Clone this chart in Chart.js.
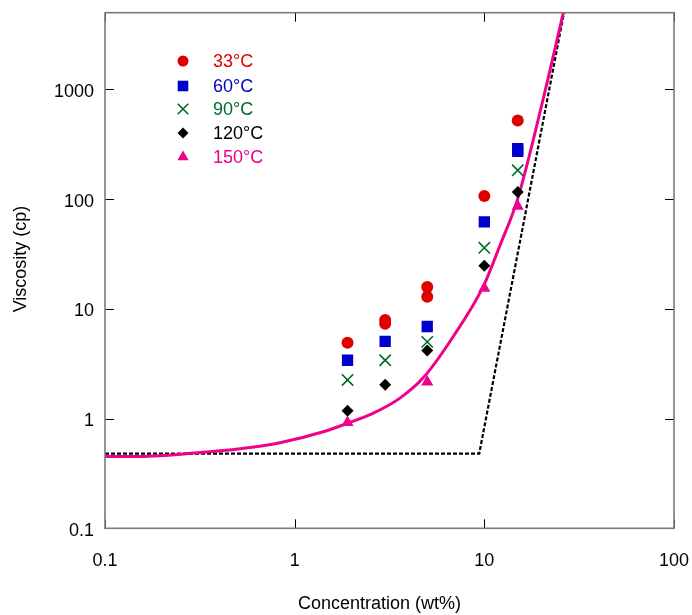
<!DOCTYPE html>
<html><head><meta charset="utf-8">
<script src="https://cdn.jsdelivr.net/npm/chart.js@4/dist/chart.umd.min.js"></script>
<style>html,body{margin:0;padding:0;background:#fff;}canvas{display:block}</style>
</head><body>
<canvas id="c" width="692" height="615"></canvas>
<script>
// ---- data ----
const concentrations = [1.9, 3, 5, 10, 15];            // wt%
const visc33    = [4.9, 7.9, 15.8, 107, 520];
const visc33rep = [null, 7.3, 12.9, null, null];        // replicate measurements
const visc60    = [3.4, 5.05, 6.9, 62, 289];
const visc60rep = [null, null, null, null, 273];
const visc90    = [2.25, 3.4, 5.0, 36, 183];
const visc120   = [1.18, 2.03, 4.17, 24.7, 116];
const visc150   = [0.92, null, 2.16, 15.4, 86];
const fitX = [0.1, 0.153, 0.317, 0.515, 0.837, 1.415, 1.88, 2.6, 3.59, 4.76, 6.86, 9.87, 12.1, 14.95, 20.4, 26.1];
const fitY = [0.452, 0.451, 0.49, 0.531, 0.603, 0.759, 0.90, 1.12, 1.535, 2.35, 5.6, 16.0, 38, 99, 809, 5000];
const modelX = [0.1, 9.4, 26.3];
const modelY = [0.48, 0.48, 5000];
const xTicks = [0.1, 1, 10, 100];
const yTicks = [0.1, 1, 10, 100, 1000];
const seriesLabels = ['33°C', '60°C', '90°C', '120°C', '150°C'];
const xTitle = 'Concentration (wt%)';
const yTitle = 'Viscosity (cp)';

// ---- styles ----
const FONT = '"Liberation Sans", Arial, sans-serif';
const colors = ['#e00000', '#0000cc', '#006a28', '#000000', '#f0008c'];
const styles = [
  {pointStyle: 'circle', radius: 6, borderWidth: 0},
  {pointStyle: 'rect', radius: 8, borderWidth: 0},
  {pointStyle: 'crossRot', radius: 8, borderWidth: 1.6},
  {pointStyle: 'rectRot', radius: 6, borderWidth: 0},
  {pointStyle: 'triangle', radius: 7, borderWidth: 0}
];

function pairs(xs, ys) {
  const out = [];
  xs.forEach((x, i) => { if (ys[i] != null) out.push({x: x, y: ys[i]}); });
  return out;
}
const seriesData = [
  pairs(concentrations, visc33).concat(pairs(concentrations, visc33rep)),
  pairs(concentrations, visc60).concat(pairs(concentrations, visc60rep)),
  pairs(concentrations, visc90),
  pairs(concentrations, visc120),
  pairs(concentrations, visc150)
];

const datasets = seriesData.map((d, i) => ({
  label: seriesLabels[i],
  data: d,
  showLine: false,
  pointStyle: styles[i].pointStyle,
  pointRadius: styles[i].radius,
  pointHoverRadius: styles[i].radius,
  pointBorderWidth: styles[i].borderWidth,
  backgroundColor: colors[i],
  borderColor: colors[i]
}));
datasets.push({
  label: 'fit',
  data: pairs(fitX, fitY),
  showLine: true,
  pointRadius: 0,
  borderColor: colors[4],
  borderWidth: 3,
  cubicInterpolationMode: 'monotone'
});
datasets.push({
  label: 'model',
  data: pairs(modelX, modelY),
  showLine: true,
  pointRadius: 0,
  borderColor: '#000',
  borderWidth: 2.2,
  borderDash: [4, 2],
  tension: 0
});

const decorPlugin = {
  id: 'decor',
  afterDraw(chart) {
    const {ctx, chartArea: a, scales: {x, y}} = chart;
    ctx.save();
    // inward tick marks on all four sides
    ctx.strokeStyle = '#000';
    ctx.lineWidth = 1;
    ctx.beginPath();
    xTicks.forEach(v => {
      const px = Math.round(x.getPixelForValue(v)) + 0.5;
      ctx.moveTo(px, a.bottom); ctx.lineTo(px, a.bottom - 9);
      ctx.moveTo(px, a.top); ctx.lineTo(px, a.top + 9);
    });
    yTicks.forEach(v => {
      const py = Math.round(y.getPixelForValue(v)) + 0.5;
      ctx.moveTo(a.left, py); ctx.lineTo(a.left + 9, py);
      ctx.moveTo(a.right, py); ctx.lineTo(a.right - 9, py);
    });
    ctx.stroke();
    // frame
    ctx.strokeStyle = '#7a7a7a';
    ctx.lineWidth = 1.6;
    ctx.strokeRect(a.left, a.top, a.right - a.left, a.bottom - a.top);
    // axis titles
    ctx.fillStyle = '#000';
    ctx.font = '18px ' + FONT;
    ctx.textAlign = 'center';
    ctx.textBaseline = 'middle';
    ctx.fillText(xTitle, 379.5, 604);
    ctx.save();
    ctx.translate(21, 259);
    ctx.rotate(-Math.PI / 2);
    ctx.fillText(yTitle, 0, 0);
    ctx.restore();
    // legend
    const rows = [61, 86, 109, 133, 157];
    ctx.textAlign = 'left';
    seriesLabels.forEach((lab, i) => {
      ctx.fillStyle = colors[i];
      ctx.strokeStyle = colors[i];
      ctx.lineWidth = styles[i].borderWidth;
      Chart.helpers.drawPoint(ctx, {pointStyle: styles[i].pointStyle, radius: styles[i].radius - 0.5,
        rotation: 0, borderWidth: styles[i].borderWidth}, 183, rows[i]);
      ctx.fillText(lab, 213, rows[i] + 1);
    });
    ctx.restore();
  }
};

const tickFont = {family: FONT, size: 18};
new Chart(document.getElementById('c'), {
  type: 'scatter',
  data: {datasets: datasets},
  options: {
    responsive: false,
    devicePixelRatio: 1,
    animation: false,
    events: [],
    layout: {padding: {left: 0, right: 18, top: 12.7, bottom: 0}},
    plugins: {legend: {display: false}, tooltip: {enabled: false}},
    scales: {
      x: {
        type: 'logarithmic', min: 0.1, max: 100, position: 'bottom',
        grid: {display: false, drawTicks: false},
        border: {display: false},
        ticks: {font: tickFont, color: '#000', padding: 22, autoSkip: false, maxRotation: 0,
          callback: v => String(v)},
        afterBuildTicks: s => { s.ticks = xTicks.map(v => ({value: v})); },
        afterFit: s => { s.height = 86.7; s.paddingLeft = 0; s.paddingRight = 0; s.paddingTop = 0; s.paddingBottom = 0; }
      },
      y: {
        type: 'logarithmic', min: 0.1, max: 5000, position: 'left',
        grid: {display: false, drawTicks: false},
        border: {display: false},
        ticks: {font: tickFont, color: '#000', padding: 11, autoSkip: false, labelOffset: 2.5,
          callback: v => String(v)},
        afterBuildTicks: s => { s.ticks = yTicks.map(v => ({value: v})); },
        afterFit: s => { s.width = 105; s.paddingLeft = 0; s.paddingRight = 0; s.paddingTop = 0; s.paddingBottom = 0; }
      }
    }
  },
  plugins: [decorPlugin]
});
</script>
</body></html>
